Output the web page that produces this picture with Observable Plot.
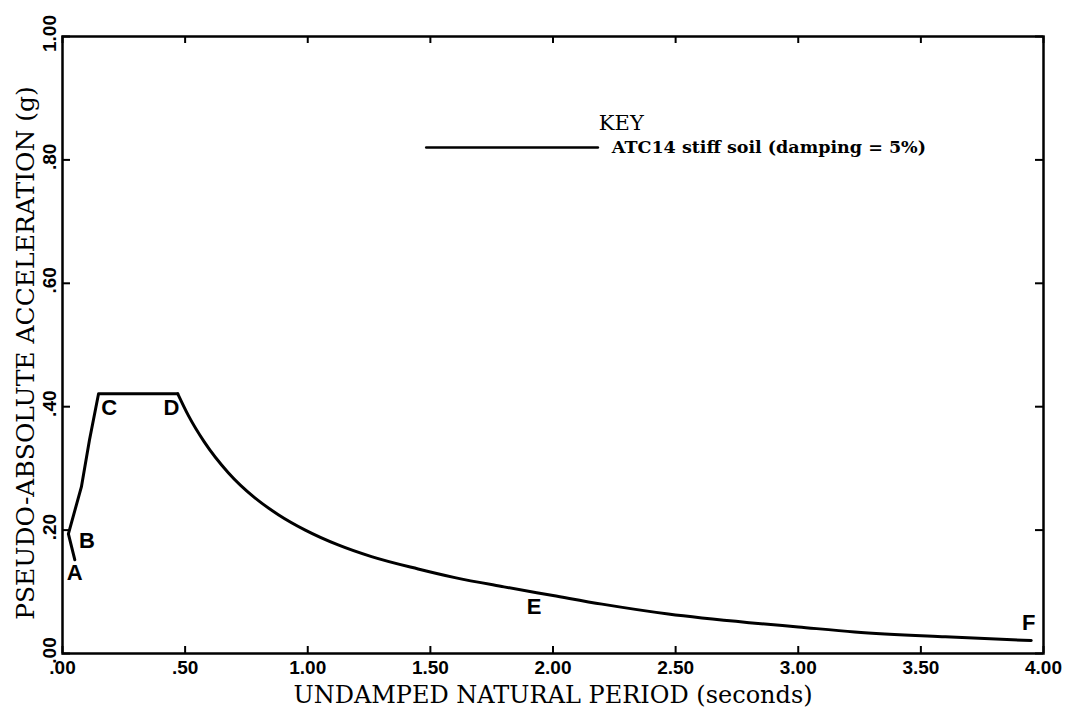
<!DOCTYPE html>
<html><head><meta charset="utf-8">
<script src="https://cdn.jsdelivr.net/npm/d3@7"></script>
<script src="https://cdn.jsdelivr.net/npm/@observablehq/plot@0.6"></script>
<style>body{margin:0;background:#fff}</style>
</head><body><div id="chart"></div>
<script>
// Spectrum (period in s, pseudo-absolute acceleration in g)
const period = [0.05, 0.024, 0.077, 0.11, 0.147, 0.47, 0.513, 0.578, 0.676, 0.782, 0.88, 0.99, 1.124, 1.26, 1.45, 1.6, 1.8, 2.0, 2.2, 2.47, 2.8, 3.0, 3.23, 3.6, 3.95];
const accel  = [0.152, 0.194, 0.27, 0.346, 0.421, 0.421, 0.386, 0.343, 0.293, 0.253, 0.225, 0.2, 0.176, 0.157, 0.137, 0.123, 0.108, 0.094, 0.08, 0.064, 0.05, 0.043, 0.035, 0.027, 0.021];
const cornerD = 5; // index of point D: straight segments before it, smooth decay after

const pointLabels = ["A", "B", "C", "D", "E", "F"];
const labelPeriod = [0.05, 0.1, 0.19, 0.444, 1.923, 3.94];
const labelAccel  = [0.131, 0.183, 0.398, 0.398, 0.075, 0.05];

const xTicks = [0, 0.5, 1, 1.5, 2, 2.5, 3, 3.5, 4];
const xTickLabels = [".00", ".50", "1.00", "1.50", "2.00", "2.50", "3.00", "3.50", "4.00"];
const yTicks = [0, 0.2, 0.4, 0.6, 0.8, 1];
const yTickLabels = [".00", ".20", ".40", ".60", ".80", "1.00"];

const xTitle = "UNDAMPED NATURAL PERIOD (seconds)";
const yTitle = "PSEUDO-ABSOLUTE ACCELERATION (g)";
const keyTitle = "KEY";
const seriesName = "ATC14 stiff soil (damping = 5%)";
const keyLinePeriod = [1.483, 2.183];
const keyLineAccel = [0.82, 0.82];
const keyTitlePos = [2.187, 0.86];
const keyTextPos = [2.24, 0.82];

const W = 1081, H = 716;
const mT = 36, mR = 38, mB = 63, mL = 62;
const fw = W - mL - mR, fh = H - mT - mB;

const curve = period.map((p, i) => ({p, a: accel[i]}));
const rising = curve.slice(0, cornerD + 1);
const decay = curve.slice(cornerD);
const labels = pointLabels.map((t, i) => ({t, p: labelPeriod[i], a: labelAccel[i]}));
const keyLine = keyLinePeriod.map((p, i) => ({p, a: keyLineAccel[i]}));

const sans = "'Liberation Sans', Arial, sans-serif";
const serif = "'DejaVu Serif', serif";

const chart = Plot.plot({
  width: W, height: H,
  marginTop: mT, marginRight: mR, marginBottom: mB, marginLeft: mL,
  x: {domain: [0, 4], axis: null},
  y: {domain: [0, 1], axis: null},
  style: {background: "#fff", color: "#000"},
  marks: [
    // inner ticks
    Plot.tickX(xTicks, {x: d => d, insetTop: fh - 7, stroke: "#000", strokeWidth: 2}),
    Plot.tickX(xTicks, {x: d => d, insetBottom: fh - 7, stroke: "#000", strokeWidth: 2}),
    Plot.tickY(yTicks, {y: d => d, insetRight: fw - 8, stroke: "#000", strokeWidth: 2}),
    Plot.tickY(yTicks, {y: d => d, insetLeft: fw - 8, stroke: "#000", strokeWidth: 2}),
    Plot.frame({stroke: "#000", strokeWidth: 2.5}),
    // tick labels
    Plot.text(xTicks, {x: d => d, text: (d, i) => xTickLabels[i], frameAnchor: "bottom", dy: 20,
      fontSize: 19, fontWeight: "bold", fontFamily: sans, fill: "#000"}),
    Plot.text(yTicks, {y: d => d, text: (d, i) => yTickLabels[i], frameAnchor: "left", textAnchor: "middle",
      dx: -13, dy: -3, rotate: -90, fontSize: 19, fontWeight: "bold", fontFamily: sans, fill: "#000"}),
    // axis titles
    Plot.text([xTitle], {text: d => d, frameAnchor: "bottom", dy: 49,
      fontSize: 24, fontFamily: serif, fill: "#000"}),
    Plot.text([yTitle], {text: d => d, frameAnchor: "left", textAnchor: "middle", dx: -37, dy: 8, rotate: -90,
      fontSize: 25, fontFamily: serif, fill: "#000"}),
    // spectrum
    Plot.line(rising, {x: "p", y: "a", stroke: "#000", strokeWidth: 3, strokeLinejoin: "round"}),
    Plot.line(decay, {x: "p", y: "a", curve: "monotone-x", stroke: "#000", strokeWidth: 3, strokeLinejoin: "round"}),
    Plot.text(labels, {x: "p", y: "a", text: "t", fontSize: 22, fontWeight: "bold", fontFamily: sans, fill: "#000"}),
    // key
    Plot.line(keyLine, {x: "p", y: "a", stroke: "#000", strokeWidth: 2.5}),
    Plot.text([keyTitle], {x: () => keyTitlePos[0], y: () => keyTitlePos[1], text: d => d, textAnchor: "start",
      fontSize: 21, fontFamily: serif, fill: "#000"}),
    Plot.text([seriesName], {x: () => keyTextPos[0], y: () => keyTextPos[1], text: d => d, textAnchor: "start",
      fontSize: 17.5, fontWeight: "bold", fontFamily: serif, fill: "#000"})
  ]
});
document.getElementById("chart").appendChild(chart);
</script>
</body></html>
